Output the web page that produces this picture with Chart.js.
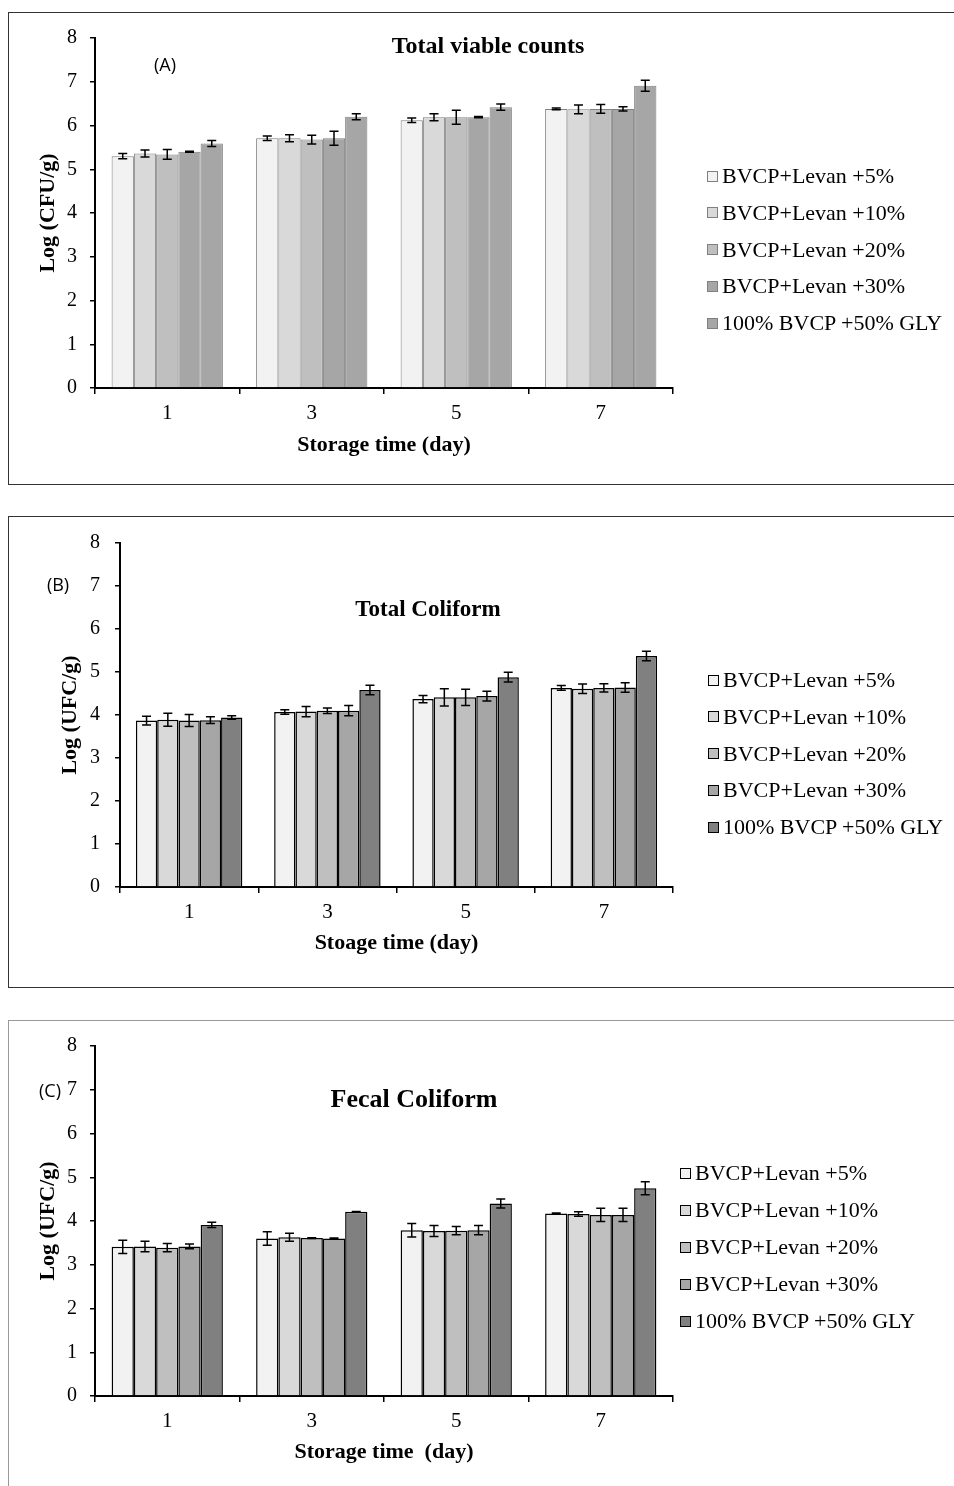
<!DOCTYPE html>
<html>
<head>
<meta charset="utf-8">
<script src="https://cdn.jsdelivr.net/npm/chart.js@4.4.1/dist/chart.umd.min.js"></script>
<style>
  body { margin: 0; background: #fff; width: 954px; height: 1486px; position: relative; overflow: hidden; font-family: "Liberation Serif", "Times New Roman", serif; }
  .box { position: absolute; left: 8px; width: 1000px; box-sizing: border-box; border: 1.5px solid #333; }
  canvas { position: absolute; left: 0; }
  .ttl { position: absolute; font-weight: bold; transform: translate(-50%, -50%); white-space: nowrap; }
  .tag { position: absolute; font-family: "Open Sans", "Liberation Sans", sans-serif; font-size: 18px; transform: translate(-50%, -50%); }
  .item { position: absolute; display: flex; align-items: center; font-size: 22px; white-space: nowrap; transform: translateY(-50%); }
  .item span { display: inline-block; width: 9px; height: 9px; border: 1px solid #000; margin-right: 4px; }
</style>
</head>
<body>
<div class="box" style="top:12px;height:473px"></div>
<div class="box" style="top:516px;height:472px"></div>
<div class="box" style="top:1020px;height:600px;border-color:#999"></div>

<canvas id="chartA" width="954" height="473" style="top:12px"></canvas>
<canvas id="chartB" width="954" height="472" style="top:516px"></canvas>
<canvas id="chartC" width="954" height="466" style="top:1020px"></canvas>

<div class="ttl" style="left:488px;top:45px;font-size:24px">Total viable counts</div>
<div class="ttl" style="left:428px;top:609px;font-size:23px">Total Coliform</div>
<div class="ttl" style="left:414px;top:1099px;font-size:26px">Fecal Coliform</div>
<div class="tag" style="left:165px;top:64px">(A)</div>
<div class="tag" style="left:58px;top:584px">(B)</div>
<div class="tag" style="left:50px;top:1090px">(C)</div>

<div id="legA"></div>
<div id="legB"></div>
<div id="legC"></div>

<script>
const days = ['1', '3', '5', '7'];
const seriesNames = ['BVCP+Levan +5%', 'BVCP+Levan +10%', 'BVCP+Levan +20%', 'BVCP+Levan +30%', '100% BVCP +50% GLY'];
const yTicks = [0, 1, 2, 3, 4, 5, 6, 7, 8];

// (A) total viable counts, one row per series
const tvcMean = [
  [5.30, 5.71, 6.12, 6.38],
  [5.36, 5.71, 6.19, 6.37],
  [5.34, 5.68, 6.19, 6.38],
  [5.40, 5.71, 6.19, 6.38],
  [5.59, 6.20, 6.42, 6.91]
];
const tvcErr = [
  [0.06, 0.05, 0.05, 0.02],
  [0.08, 0.08, 0.08, 0.10],
  [0.11, 0.10, 0.16, 0.10],
  [0.01, 0.16, 0.015, 0.05],
  [0.07, 0.07, 0.07, 0.125]
];

// (B) total coliform
const tcMean = [
  [3.87, 4.07, 4.37, 4.63],
  [3.89, 4.08, 4.41, 4.61],
  [3.87, 4.10, 4.41, 4.63],
  [3.88, 4.10, 4.44, 4.64],
  [3.94, 4.58, 4.88, 5.37]
];
const tcErr = [
  [0.10, 0.05, 0.085, 0.055],
  [0.15, 0.12, 0.20, 0.11],
  [0.14, 0.065, 0.19, 0.095],
  [0.08, 0.12, 0.115, 0.11],
  [0.04, 0.11, 0.115, 0.11]
];

// (C) fecal coliform
const fcMean = [
  [3.41, 3.60, 3.79, 4.17],
  [3.42, 3.63, 3.77, 4.16],
  [3.39, 3.61, 3.78, 4.14],
  [3.42, 3.60, 3.79, 4.14],
  [3.91, 4.21, 4.40, 4.75]
];
const fcErr = [
  [0.15, 0.155, 0.155, 0.015],
  [0.12, 0.09, 0.125, 0.05],
  [0.095, 0.01, 0.095, 0.15],
  [0.057, 0.01, 0.105, 0.15],
  [0.06, 0.01, 0.105, 0.15]
];

const greysA = ['#f2f2f2', '#d9d9d9', '#bfbfbf', '#a6a6a6', '#a6a6a6'];
const greysBC = ['#f2f2f2', '#d9d9d9', '#bfbfbf', '#a6a6a6', '#808080'];

const serif = "'Liberation Serif', 'Times New Roman', serif";

// error bars are not built in, so draw them from the y scale
const errorBars = {
  id: 'errorBars',
  afterDatasetsDraw(chart) {
    const ctx = chart.ctx;
    const y = chart.scales.y;
    ctx.save();
    ctx.strokeStyle = '#000';
    ctx.lineWidth = 1.5;
    chart.data.datasets.forEach((ds, i) => {
      chart.getDatasetMeta(i).data.forEach((bar, j) => {
        const top = y.getPixelForValue(ds.data[j] + ds.errors[j]);
        const bot = y.getPixelForValue(ds.data[j] - ds.errors[j]);
        ctx.beginPath();
        ctx.moveTo(bar.x, top); ctx.lineTo(bar.x, bot);
        ctx.moveTo(bar.x - 4.5, top); ctx.lineTo(bar.x + 4.5, top);
        ctx.moveTo(bar.x - 4.5, bot); ctx.lineTo(bar.x + 4.5, bot);
        ctx.stroke();
      });
    });
    ctx.restore();
  }
};

function makeChart(id, means, errs, colors, edge, edgeWidth, yTitle, xTitle, g) {
  new Chart(document.getElementById(id), {
    type: 'bar',
    data: {
      labels: days,
      datasets: seriesNames.map((name, i) => ({
        label: name,
        data: means[i],
        errors: errs[i],
        backgroundColor: colors[i],
        borderColor: edge,
        borderWidth: edgeWidth,
        categoryPercentage: 0.77,
        barPercentage: 1.0
      }))
    },
    options: {
      responsive: false,
      animation: false,
      devicePixelRatio: 1,
      layout: { padding: { left: g.padLeft, top: 26, right: 281, bottom: g.padBottom } },
      plugins: { legend: { display: false }, tooltip: { enabled: false } },
      scales: {
        x: {
          afterFit: s => { s.height = g.xHeight; },
          grid: { offset: true, drawOnChartArea: false, tickLength: 6, color: '#000', lineWidth: 1.5 },
          border: { color: '#000', width: 2 },
          ticks: { color: '#000', padding: 7, font: { family: serif, size: 21 } },
          title: { display: true, text: xTitle, color: '#000', padding: 0, font: { family: serif, size: 22, weight: 'bold' } }
        },
        y: {
          min: 0, max: 8,
          afterFit: s => { s.width = g.yWidth; },
          afterBuildTicks: s => { s.ticks = yTicks.map(v => ({ value: v })); },
          grid: { drawOnChartArea: false, tickLength: 5, color: '#000', lineWidth: 1.5 },
          border: { color: '#000', width: 2 },
          ticks: { color: '#000', padding: g.yPad, font: { family: serif, size: 20 } },
          title: { display: true, text: yTitle, color: '#000', padding: 0, font: { family: serif, size: 22, weight: 'bold' } }
        }
      }
    },
    plugins: [errorBars]
  });
}

function makeLegend(id, colors, edge, sqX, y0, step) {
  const host = document.getElementById(id);
  seriesNames.forEach((name, i) => {
    const d = document.createElement('div');
    d.className = 'item';
    d.style.left = sqX + 'px';
    d.style.top = (y0 + i * step) + 'px';
    const sw = document.createElement('span');
    sw.style.background = colors[i];
    sw.style.borderColor = edge;
    d.appendChild(sw);
    d.appendChild(document.createTextNode(name));
    host.appendChild(d);
  });
}

makeChart('chartA', tvcMean, tvcErr, greysA, '#7f7f7f', 1, 'Log (CFU/g)', 'Storage time (day)',
  { padLeft: 35, yWidth: 60, padBottom: 26, xHeight: 71, yPad: 13 });
makeChart('chartB', tcMean, tcErr, greysBC, '#000', 1.5, 'Log (UFC/g)', 'Stoage time (day)',
  { padLeft: 57, yWidth: 63, padBottom: 31, xHeight: 70, yPad: 15 });
makeChart('chartC', fcMean, fcErr, greysBC, '#000', 1.5, 'Log (UFC/g)', 'Storage time  (day)',
  { padLeft: 35, yWidth: 60, padBottom: 20, xHeight: 70, yPad: 13 });

makeLegend('legA', greysA, '#7f7f7f', 707, 176, 36.75);
makeLegend('legB', greysBC, '#000', 708, 680, 36.75);
makeLegend('legC', greysBC, '#000', 680, 1173, 37);
</script>
</body>
</html>
